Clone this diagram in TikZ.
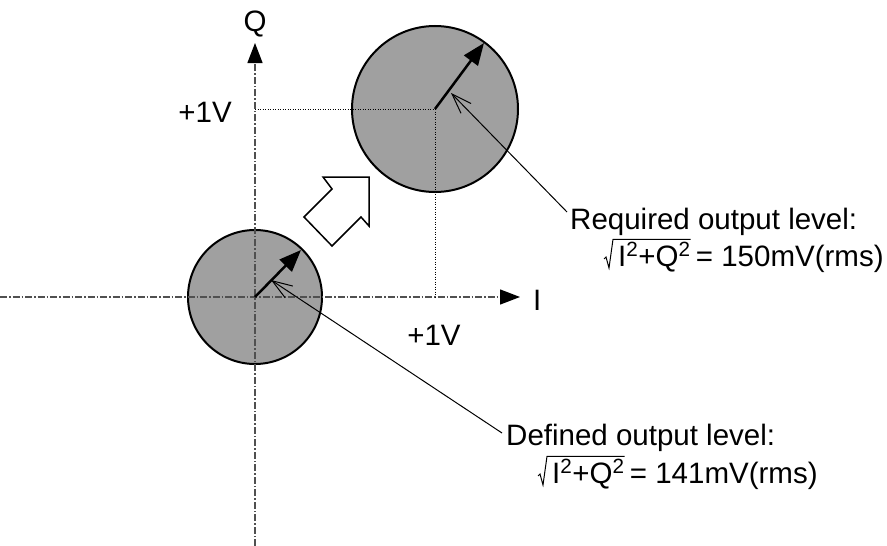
\documentclass[tikz,border=0pt]{standalone}
\usepackage{fontspec}
\setmainfont{Liberation Sans}
\usetikzlibrary{arrows.meta}
\definecolor{discgray}{RGB}{160,160,160}
\definecolor{axisgray}{RGB}{80,80,80}
\tikzset{
  axisline/.style={draw=axisgray, line width=1.3pt, dash pattern=on 7pt off 2pt on 1.5pt off 2pt,
    -{Triangle[length=20pt,width=15pt,fill=black,color=black]}},
  guideline/.style={draw=black, line width=1pt, dash pattern=on 1pt off 1.5pt},
  disc/.style={circle, draw=black, line width=2pt, fill=discgray, inner sep=0pt},
  vector/.style={draw=black, line width=2.5pt, -{Triangle[length=22pt,width=17pt]}},
  leader/.style={draw=black, line width=1pt, -{Straight Barb[length=20pt,width=14pt]}},
  radical/.style={draw=black, line width=1pt, line join=miter},
  hollow/.style={draw=black, line width=1.5pt, fill=white, line join=miter},
  lbl/.style={inner sep=0pt, font=\fontsize{29.5}{35}\selectfont},
}
\begin{document}
\begin{tikzpicture}[x=1pt,y=-1pt]
\useasboundingbox (0,0) rectangle (887,546);
% coordinates
\coordinate (O) at (255,297);
\coordinate (P) at (435,109);
\coordinate (qbot) at (255,546);
\coordinate (qtop) at (255,43);
\coordinate (ileft) at (0,297);
\coordinate (iright) at (520,297);
\coordinate (qmark) at (255,109);
\coordinate (imark) at (435,297);
% discs
\node[disc, minimum size=134pt] (c1) at (O) {};
\node[disc, minimum size=166pt] (c2) at (P) {};
% axes
\draw[axisline] (qbot) -- (qtop);
\draw[axisline] (ileft) -- (iright);
% guides
\draw[guideline] (qmark) -- (P) -- (imark);
% vectors
\coordinate (v1) at (301,250);
\coordinate (v2) at (484,43);
\draw[vector] (O) -- (v1);
\draw[vector] (P) -- (v2);
% hollow arrow
\draw[hollow] (323,177) -- (369,177) -- (369,226) -- (361,217) -- (332,246) -- (304,217) -- (332,189) -- cycle;
% labels
\node[lbl, anchor=base] (qlbl) at (255,31) {Q};
\node[lbl, anchor=base west] (ilbl) at (533,310) {I};
\node[lbl, anchor=base east] (v1l) at (232,122) {+1V};
\node[lbl, anchor=base] (v1r) at (434,345) {+1V};
\node[lbl, anchor=base west] (req1) at (570,229) {Required output level:};
\node[lbl, anchor=base west] (req2a) at (618,266) {I\textsuperscript{2}+Q\textsuperscript{2}};
\node[lbl, anchor=base west] (req2b) at ([xshift=5pt]req2a.base east) {= 150mV(rms)};
\node[lbl, anchor=base west] (def1) at (506,445) {Defined output level:};
\node[lbl, anchor=base west] (def2a) at (552,483) {I\textsuperscript{2}+Q\textsuperscript{2}};
\node[lbl, anchor=base west] (def2b) at ([xshift=5pt]def2a.base east) {= 141mV(rms)};
% radicals
\draw[radical] ([yshift=3pt]req2a.north east) -- ([xshift=-5pt,yshift=3pt]req2a.north west)
  -- ([xshift=-9pt,yshift=-2pt]req2a.base west) -- ++(-3,-11) -- ++(-2,2);
\draw[radical] ([yshift=3pt]def2a.north east) -- ([xshift=-5pt,yshift=3pt]def2a.north west)
  -- ([xshift=-9pt,yshift=-2pt]def2a.base west) -- ++(-3,-11) -- ++(-2,2);
% leaders
\coordinate (rq) at (567,212);
\coordinate (df) at (502,433);
\coordinate (t2) at (451,93);
\coordinate (t1) at (271,280);
\draw[leader] (rq) -- (t2);
\draw[leader] (df) -- (t1);
\end{tikzpicture}
\end{document}
